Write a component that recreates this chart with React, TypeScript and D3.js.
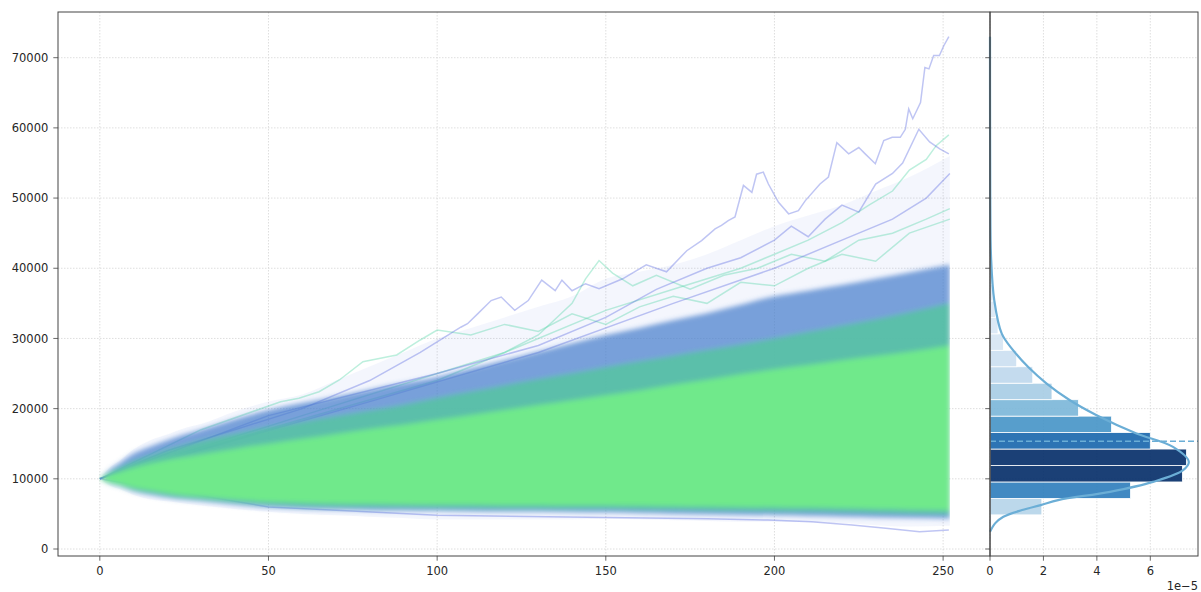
import * as d3 from "d3";
import { useEffect, useRef } from "react";

const W = 1201;
const H = 592;

// time steps where the envelopes of the simulated paths were read
const steps = [0, 3, 6, 10, 15, 20, 25, 30, 40, 50, 60, 70, 80, 90, 100, 110, 120, 130, 140, 150, 160, 170, 180, 190, 200, 210, 220, 230, 240, 252];

// outer reach of the sparse paths
const sparseTop = [10000, 11600, 12600, 14200, 15500, 16300, 17200, 17800, 19600, 21000, 22000, 24000, 26000, 28000, 30000, 31500, 33000, 34500, 36000, 38500, 39500, 40500, 42000, 44000, 46000, 47500, 49000, 51000, 53000, 56000];
const sparseBottom = [10000, 9000, 8500, 7700, 7100, 6800, 6500, 6200, 5700, 5300, 5000, 4800, 4600, 4400, 4200, 4200, 4200, 4200, 4200, 4300, 4200, 4100, 4000, 3900, 3900, 3800, 3700, 3400, 3200, 3300];
// dense blue / teal mass
const denseTop = [10000, 11300, 12300, 13600, 14600, 15500, 16300, 17000, 18500, 19800, 20800, 21700, 22700, 23600, 24500, 25700, 26900, 28100, 29300, 30500, 31500, 32600, 33600, 34800, 36000, 36800, 37600, 38500, 39400, 40500];
const denseBottom = [10000, 9300, 8900, 8200, 7700, 7300, 7000, 6800, 6300, 5900, 5700, 5600, 5500, 5450, 5400, 5350, 5300, 5300, 5250, 5200, 5100, 5000, 4900, 4850, 4800, 4700, 4600, 4500, 4400, 4300];
// blue-green transition
const midTop = [10000, 10900, 11600, 12500, 13300, 14100, 14800, 15400, 16400, 17300, 18100, 18900, 19700, 20500, 21500, 22400, 23300, 24200, 25000, 25900, 26700, 27500, 28300, 29100, 30000, 30900, 31800, 32700, 33700, 35000];
const midBottom = [10000, 9400, 9050, 8450, 8000, 7600, 7300, 7100, 6650, 6300, 6100, 6000, 5950, 5900, 5850, 5800, 5750, 5750, 5700, 5700, 5600, 5550, 5450, 5400, 5350, 5300, 5200, 5100, 5000, 4900];
// solid green core
const coreTop = [10000, 10600, 11000, 11600, 12200, 12700, 13100, 13500, 14300, 15000, 15700, 16400, 17100, 17700, 18400, 19100, 19800, 20500, 21200, 21900, 22600, 23400, 24100, 24900, 25600, 26200, 26900, 27500, 28100, 29000];
const coreBottom = [10000, 9500, 9200, 8700, 8300, 7900, 7600, 7400, 7000, 6700, 6550, 6450, 6400, 6350, 6300, 6300, 6250, 6250, 6200, 6200, 6150, 6100, 6050, 6000, 5950, 5900, 5800, 5700, 5600, 5500];

// individual paths that stand out, [step, value]
const pathHighest: [number, number][] = [[0, 10000], [20, 14000], [40, 17000], [60, 20000], [80, 24000], [95, 28000], [107, 31600], [109, 32100], [112, 33500], [116, 35400], [119, 35900], [123, 34000], [127, 35400], [131, 38300], [135, 36800], [137, 38300], [140, 36800], [144, 37800], [148, 37100], [155, 38500], [162, 40500], [168, 39500], [174, 42500], [178.4, 43950], [182.4, 45600], [184.3, 46100], [186.3, 46800], [188.3, 47300], [190.8, 51800], [193.3, 50800], [194.7, 53400], [196.7, 53700], [198.2, 52000], [201.2, 49400], [204.2, 47750], [207.1, 48200], [209.1, 49600], [213.5, 52000], [216, 53000], [218.5, 57900], [222, 56300], [225, 57200], [226.9, 56300], [229.9, 54900], [232.4, 58200], [234.9, 58650], [237.3, 58650], [238.8, 59800], [239.8, 62700], [241, 61300], [243.3, 63600], [244.6, 68600], [245.8, 68400], [247.2, 70300], [248.9, 70300], [250.2, 71700], [251.7, 73000]];
const pathSecond: [number, number][] = [[0, 10000], [50, 19000], [100, 25000], [130, 29000], [150, 33000], [165, 37000], [180, 40000], [190, 41500], [200, 44000], [205, 46000], [210, 44500], [215, 47000], [220, 49000], [225, 48000], [230, 52000], [235, 53500], [238, 55000], [242.8, 59800], [246, 58000], [249, 57000], [251.7, 56300]];
const pathTealEnd: [number, number][] = [[0, 10000], [60, 19000], [120, 28000], [150, 34000], [170, 37000], [190, 40000], [200, 42000], [210, 44000], [220, 46500], [228, 49000], [235, 51000], [240, 54000], [245, 55500], [248, 57500], [251.7, 59000]];
const pathTealMid: [number, number][] = [[0, 10000], [60, 18500], [100, 24000], [120, 28000], [130, 30500], [140, 35000], [144, 38500], [148, 41100], [152, 39300], [158, 37500], [165, 39000], [175, 37000], [185, 39000], [195, 40000], [205, 42000], [215, 41000], [225, 44000], [235, 45000], [245, 47000], [252, 48500]];
const pathTealEarly: [number, number][] = [[0, 10000], [30, 17000], [53.6, 20980], [59, 21470], [65, 22410], [71, 24080], [78, 26680], [88, 27640], [95, 29780], [100, 31200], [110, 30500], [120, 32000], [130, 31000], [140, 33500], [150, 32000], [160, 34500], [170, 36000], [180, 35000], [190, 38000], [200, 37500], [210, 40000], [220, 42000], [230, 41000], [240, 45000], [252, 47000]];
const pathBlueEnd: [number, number][] = [[0, 10000], [80, 21000], [130, 28000], [170, 35000], [200, 40000], [220, 44000], [235, 47000], [245, 50000], [252, 53500]];
const pathLowest: [number, number][] = [[0, 10000], [50, 6000], [100, 4800], [150, 4500], [180, 4300], [198, 4130], [211, 3880], [223, 3410], [233, 2940], [243, 2460], [251.7, 2700]];

// histogram of the final values (density, ×1e-5)
const binStart = 2516;
const binWidth = 2345;
const binDensity = [0.05, 1.94, 5.26, 7.2, 7.35, 6.0, 4.55, 3.31, 2.32, 1.6, 1.0, 0.5, 0.3, 0.2, 0.12, 0.08, 0.05, 0.04, 0.03, 0.02, 0.015, 0.01, 0.005, 0.005, 0, 0.003, 0, 0, 0, 0.003];
// kde curve of the final values
const kdeValue = [2460, 3650, 4600, 5550, 6260, 6970, 8150, 9570, 11240, 12420, 14550, 16460, 19060, 21190, 23570, 25930, 28300, 30680, 35420, 41500, 50000, 60000, 73000];
const kdeDensity = [0, 0.19, 0.5, 1.2, 1.9, 2.55, 4.49, 6.1, 7.23, 7.44, 6.85, 5.48, 3.99, 2.99, 2.12, 1.43, 0.87, 0.44, 0.16, 0.04, 0.01, 0.003, 0];
const meanFinal = 15360;

const xTicks = [0, 50, 100, 150, 200, 250];
const yTicks = [0, 10000, 20000, 30000, 40000, 50000, 60000, 70000];
const hTicks = [0, 2, 4, 6];

export default function App() {
  const ref = useRef<SVGSVGElement>(null);

  useEffect(() => {
    if (!ref.current) return;
    const svg = d3.select(ref.current);
    svg.selectAll("*").remove();

    const left = 58, right = 990, top = 12, bottom = 556, hRight = 1198;
    const tickLen = 4.7;
    const x = d3.scaleLinear().domain([-12.4, 263.9]).range([left, right]);
    const y = d3.scaleLinear().domain([-997, 76510]).range([bottom, top]);
    const hx = d3.scaleLinear().domain([0, 7.785e-5]).range([right, hRight]);

    const defs = svg.append("defs");
    defs.append("clipPath").attr("id", "main-clip")
      .append("rect").attr("x", left).attr("y", top).attr("width", right - left).attr("height", bottom - top);
    // paths stop at the last step, so the blurred fan is cut there
    defs.append("clipPath").attr("id", "fan-clip")
      .append("rect").attr("x", x(0) - 1).attr("y", top).attr("width", x(steps[steps.length - 1]) - x(0) + 1).attr("height", bottom - top);
    defs.append("filter").attr("id", "soft").attr("x", "-5%").attr("y", "-5%").attr("width", "110%").attr("height", "110%")
      .append("feGaussianBlur").attr("stdDeviation", 2.6);

    // grid
    const grid = svg.append("g").attr("stroke", "#d6d6d6").attr("stroke-width", 0.8).attr("stroke-dasharray", "1.5,1.5");
    xTicks.forEach((t) => grid.append("line").attr("x1", x(t)).attr("x2", x(t)).attr("y1", top).attr("y2", bottom));
    hTicks.forEach((t) => grid.append("line").attr("x1", hx(t * 1e-5)).attr("x2", hx(t * 1e-5)).attr("y1", top).attr("y2", bottom));
    yTicks.forEach((v) => grid.append("line").attr("x1", left).attr("x2", hRight).attr("y1", y(v)).attr("y2", y(v)));

    const plot = svg.append("g").attr("clip-path", "url(#main-clip)");

    const band = (hi: number[], lo: number[]) =>
      d3.area<number>()
        .x((_, i) => x(steps[i]))
        .y0((_, i) => y(lo[i]))
        .y1((d) => y(d))
        .curve(d3.curveMonotoneX)(hi);

    plot.append("path").attr("d", band(sparseTop, sparseBottom)).attr("fill", "#8a9ce6").attr("opacity", 0.09);

    const line = d3.line<[number, number]>().x((d) => x(d[0])).y((d) => y(d[1]));
    const paths: { data: [number, number][]; color: string }[] = [
      { data: pathTealEarly, color: "#52d6a6" },
      { data: pathTealMid, color: "#52d6a6" },
      { data: pathTealEnd, color: "#52d6a6" },
      { data: pathBlueEnd, color: "#5666e0" },
      { data: pathSecond, color: "#5666e0" },
      { data: pathHighest, color: "#5666e0" },
      { data: pathLowest, color: "#5666e0" },
    ];
    paths.forEach((p) =>
      plot.append("path").attr("d", line(p.data)).attr("fill", "none")
        .attr("stroke", p.color).attr("stroke-width", 1.5).attr("opacity", 0.38)
    );

    const soft = plot.append("g").attr("clip-path", "url(#fan-clip)")
      .append("g").attr("filter", "url(#soft)");
    soft.append("path").attr("d", band(denseTop, denseBottom)).attr("fill", "#4a7fcc").attr("opacity", 0.72);
    soft.append("path").attr("d", band(midTop, midBottom)).attr("fill", "#57c4a2").attr("opacity", 0.85);
    soft.append("path").attr("d", band(coreTop, coreBottom)).attr("fill", "#70e98b");

    // histogram
    const barColor = d3.scaleLinear<number>().domain([0, 2, 4.5, 6, 7]).range([0.12, 0.3, 0.6, 0.78, 1]).clamp(true);
    svg.append("g").selectAll("rect").data(binDensity).join("rect")
      .attr("x", right)
      .attr("y", (_, i) => y(binStart + (i + 1) * binWidth))
      .attr("width", (d) => hx(d * 1e-5) - right)
      .attr("height", (_, i) => y(binStart + i * binWidth) - y(binStart + (i + 1) * binWidth))
      .attr("fill", (d) => d3.interpolateBlues(barColor(d)))
      .attr("opacity", 0.92)
      .attr("stroke", "#fff").attr("stroke-width", 0.8);

    const kde = d3.line<number>().x((d) => hx(d * 1e-5)).y((_, i) => y(kdeValue[i])).curve(d3.curveCatmullRom);
    svg.append("path").attr("d", kde(kdeDensity)).attr("fill", "none").attr("stroke", "#6baed6").attr("stroke-width", 2.2);
    svg.append("line").attr("x1", right).attr("x2", hRight).attr("y1", y(meanFinal)).attr("y2", y(meanFinal))
      .attr("stroke", "#6baed6").attr("stroke-width", 1.5).attr("stroke-dasharray", "6,3");

    // spines
    const sp = svg.append("g").attr("stroke", "#444").attr("stroke-width", 1).attr("fill", "none");
    sp.append("rect").attr("x", left).attr("y", top).attr("width", right - left).attr("height", bottom - top);
    sp.append("rect").attr("x", right).attr("y", top).attr("width", hRight - right).attr("height", bottom - top);

    // ticks and labels
    const txt = svg.append("g").attr("font-family", "DejaVu Sans, sans-serif").attr("font-size", 11.5).attr("fill", "#262626");
    const tk = svg.append("g").attr("stroke", "#444").attr("stroke-width", 0.8);
    yTicks.forEach((v) => {
      tk.append("line").attr("x1", left - tickLen).attr("x2", left).attr("y1", y(v)).attr("y2", y(v));
      tk.append("line").attr("x1", right - tickLen).attr("x2", right).attr("y1", y(v)).attr("y2", y(v));
      txt.append("text").attr("x", left - tickLen - 5).attr("y", y(v)).attr("dy", "0.36em").attr("text-anchor", "end").text(String(v));
    });
    xTicks.forEach((t) => {
      tk.append("line").attr("x1", x(t)).attr("x2", x(t)).attr("y1", bottom).attr("y2", bottom + tickLen);
      txt.append("text").attr("x", x(t)).attr("y", 575).attr("text-anchor", "middle").text(String(t));
    });
    hTicks.forEach((t) => {
      tk.append("line").attr("x1", hx(t * 1e-5)).attr("x2", hx(t * 1e-5)).attr("y1", bottom).attr("y2", bottom + tickLen);
      txt.append("text").attr("x", hx(t * 1e-5)).attr("y", 575).attr("text-anchor", "middle").text(String(t));
    });
    txt.append("text").attr("x", hRight).attr("y", 589.5).attr("text-anchor", "end").text("1e\u22125");
  }, []);

  return (
    <div style={{ position: "fixed", left: 0, top: 0, width: W, height: H, background: "#fff" }}>
      <svg ref={ref} width={W} height={H} />
    </div>
  );
}
